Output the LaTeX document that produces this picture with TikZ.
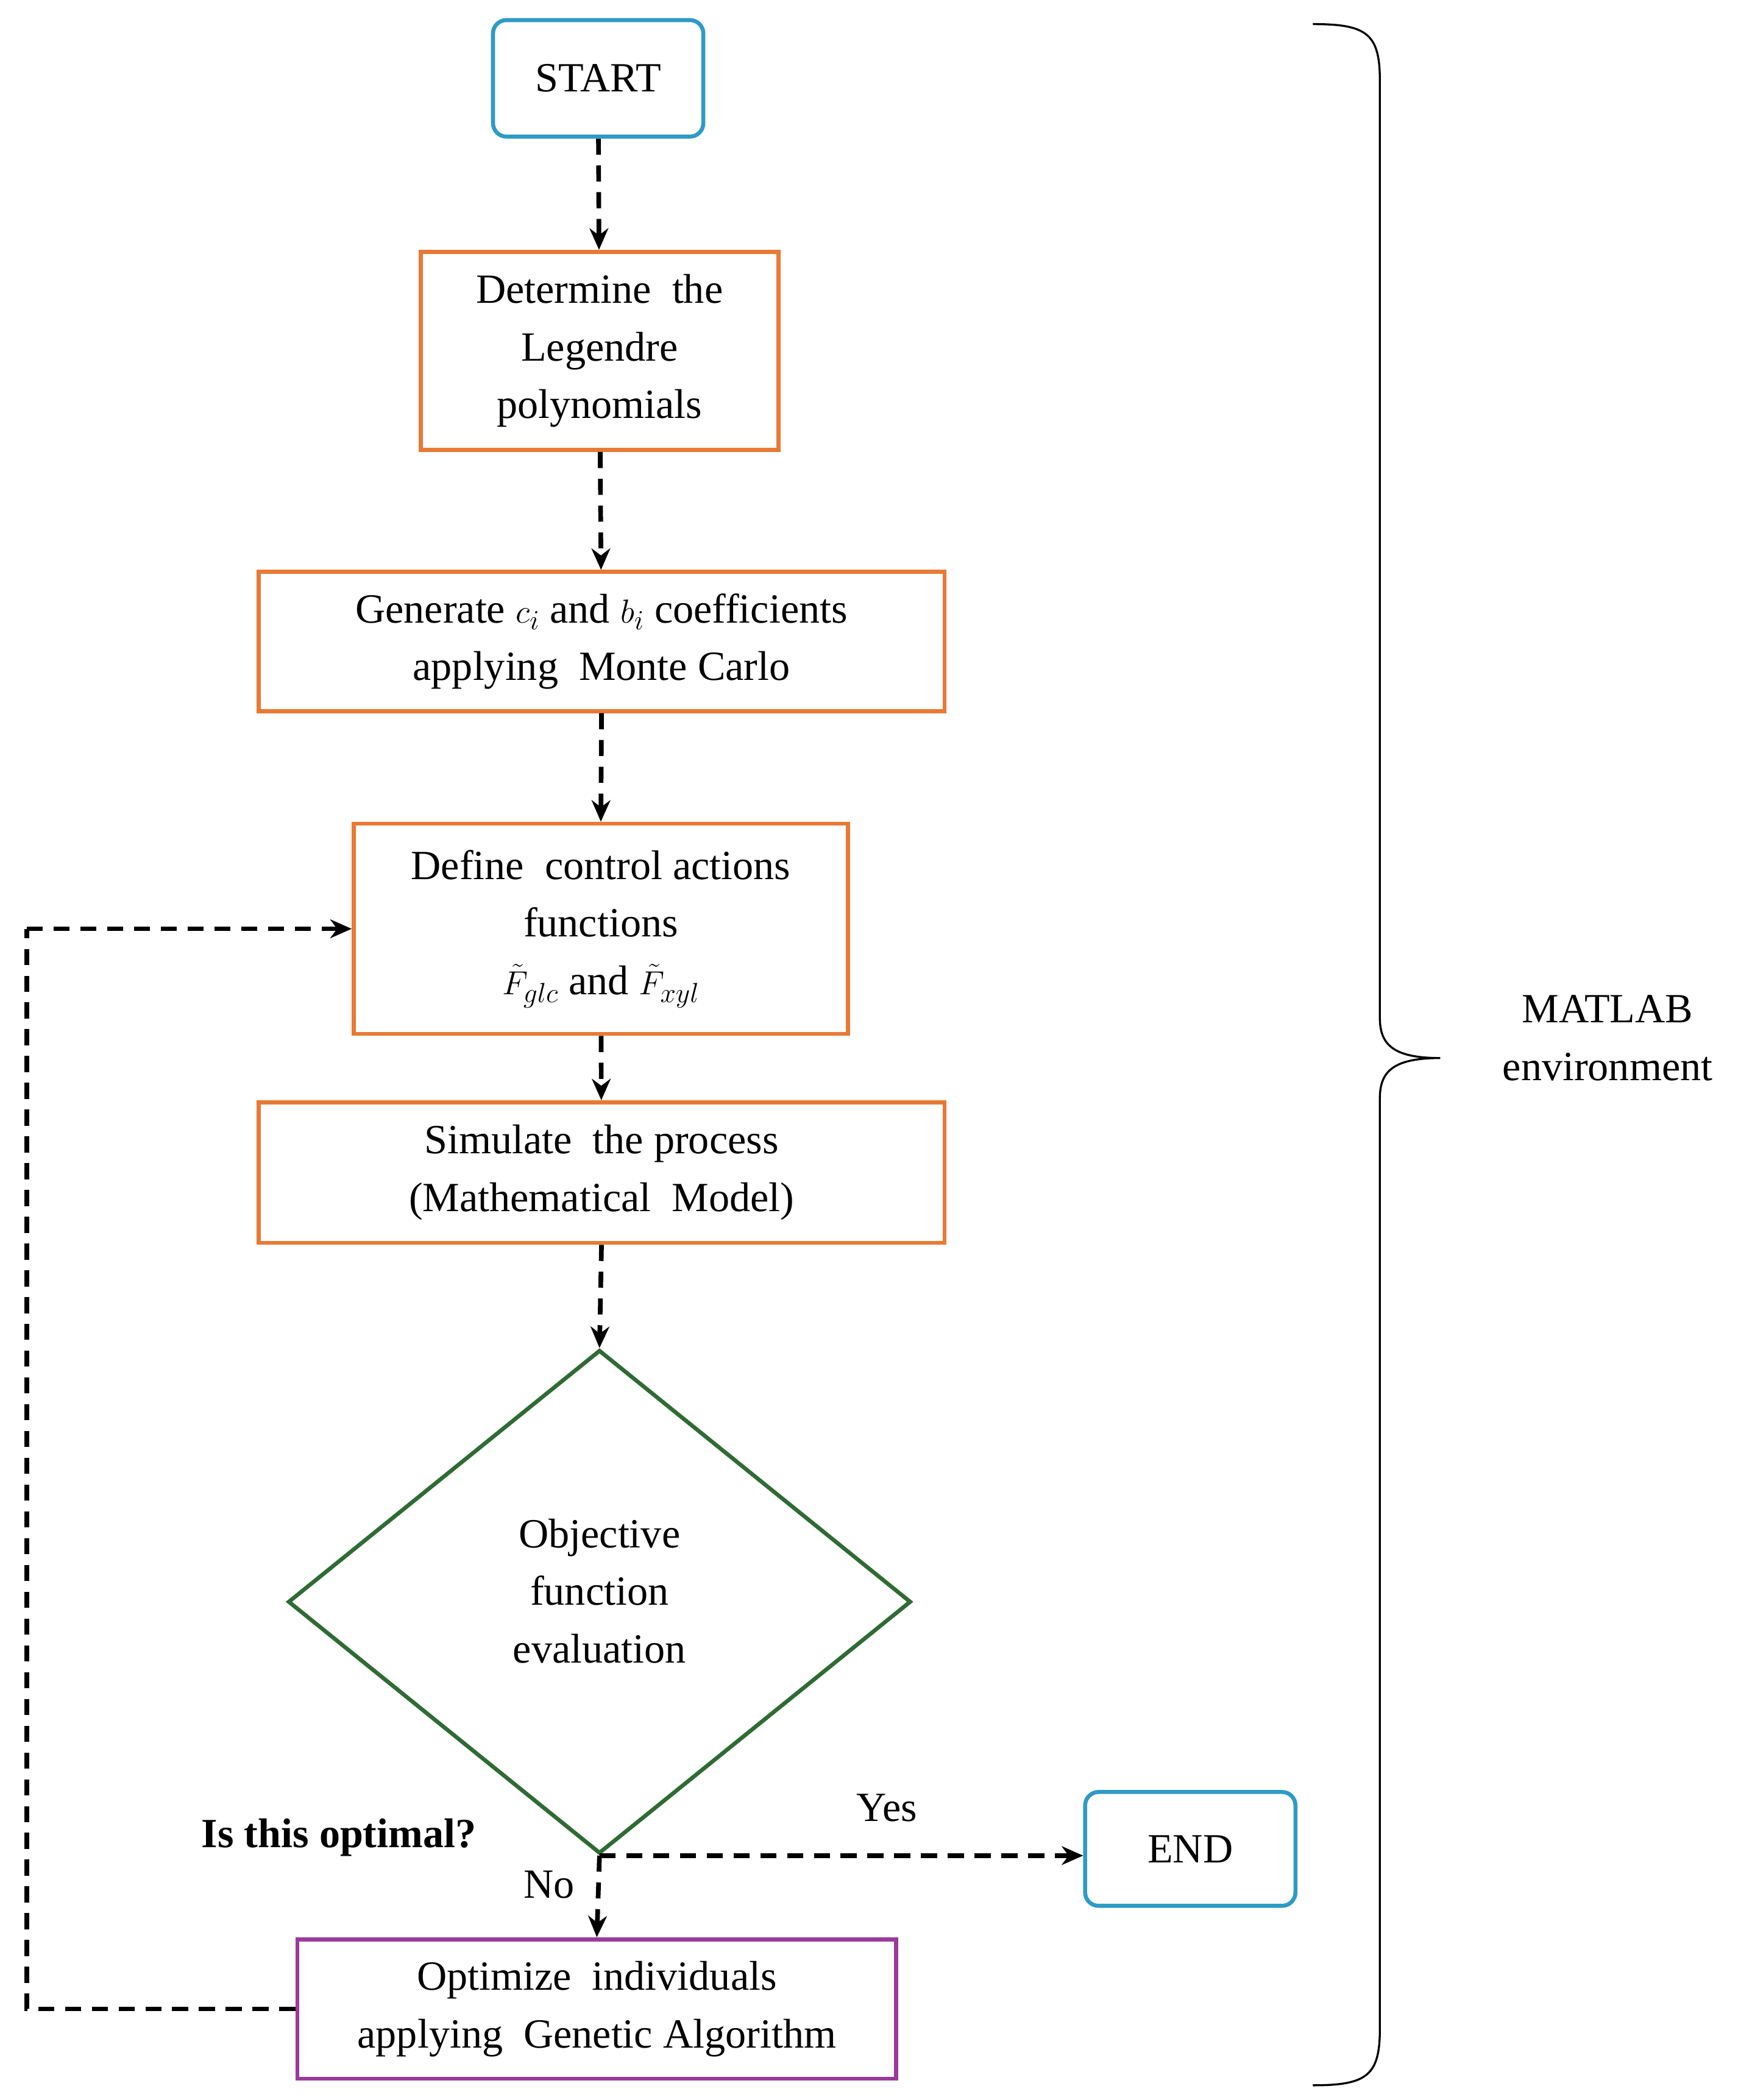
\documentclass[tikz,border=0pt]{standalone}
\usepackage{fontspec}
\setmainfont{Liberation Serif}
\usetikzlibrary{shapes.geometric,arrows.meta}
\definecolor{cy}{HTML}{2E9BC6}
\definecolor{orng}{HTML}{E87A35}
\definecolor{grn}{HTML}{2F6B34}
\definecolor{purp}{HTML}{9B3A9B}
\begin{document}
\begin{tikzpicture}[x=1pt,y=-1pt,
  every node/.style={font=\fontsize{31}{43}\selectfont, align=center, inner sep=0pt},
  term/.style={draw=cy, line width=3pt, rounded corners=10pt},
  box/.style={draw=orng, line width=3pt},
  flow/.style={dashed, line width=3.5pt, dash pattern=on 12pt off 8pt, -{Stealth[length=16pt,width=14pt]}},
  lbl/.style={font=\fontsize{31}{38}\selectfont}]
\useasboundingbox (0,0) rectangle (1297,1568);
\node[term, minimum width=157pt, minimum height=87pt] (start) at (446.5,58.5) {START};
\node[box, minimum width=267pt, minimum height=148pt] (b1) at (447.5,262) {Determine\ \ the\\Legendre\\polynomials};
\node[box, minimum width=512pt, minimum height=104pt] (b2) at (449,479) {Generate $c_i$ and $b_i$ coefficients\\applying\ \ Monte Carlo};
\node[box, minimum width=369pt, minimum height=157pt] (b3) at (448.5,693.5) {Define\ \ control\ actions\\functions\\$\tilde{F}_{glc}$ and $\tilde{F}_{xyl}$};
\node[box, minimum width=512pt, minimum height=105pt] (b4) at (449,875.5) {Simulate\ \ the process\\(Mathematical\ \ Model)};
\node[draw=grn, line width=3pt, diamond, minimum width=465pt, minimum height=376pt] (d) at (447.5,1196) {};
\node at (447.5,1188) {Objective\\function\\evaluation};
\node[term, minimum width=157pt, minimum height=85pt] (end) at (888.5,1380.5) {END};
\node[draw=purp, line width=3pt, minimum width=447pt, minimum height=104pt] (b5) at (445.5,1500) {Optimize\ \ individuals\\applying\ \ Genetic\ Algorithm};
\node[lbl] (yes) at (662,1350) {Yes};
\node[lbl] (no) at (410,1407) {No};
\node[lbl, font=\fontsize{31}{38}\selectfont\bfseries] (opt) at (253,1372) {Is this optimal?};
\node[lbl, font=\fontsize{31}{43}\selectfont] (env) at (1200,775) {MATLAB\\environment};
\coordinate (c1) at (20,1500);
\coordinate (c2) at (20,693.5);
\draw[flow] (start) -- (b1);
\draw[flow] (b1) -- (b2);
\draw[flow] (b2.south) -- (b3.north);
\draw[flow] (b3) -- (b4);
\draw[flow] (b4.south) -- (d.north);
\draw[flow] (d.south) -- (b5.north);
\draw[flow] (d.south) -- (end.west |- d.south);
\draw[flow, -] (b5.west) -- (c1) -- (c2);
\draw[flow] (c2) -- (b3.west);
\draw[line width=1.5pt] (980,18) .. controls (1020,18) and (1030,25) .. (1030,60) -- (1030,760)
  .. controls (1030,780) and (1040,790) .. (1075,790)
  .. controls (1040,790) and (1030,800) .. (1030,820) -- (1030,1515)
  .. controls (1030,1550) and (1020,1557) .. (980,1557);
\end{tikzpicture}
\end{document}
